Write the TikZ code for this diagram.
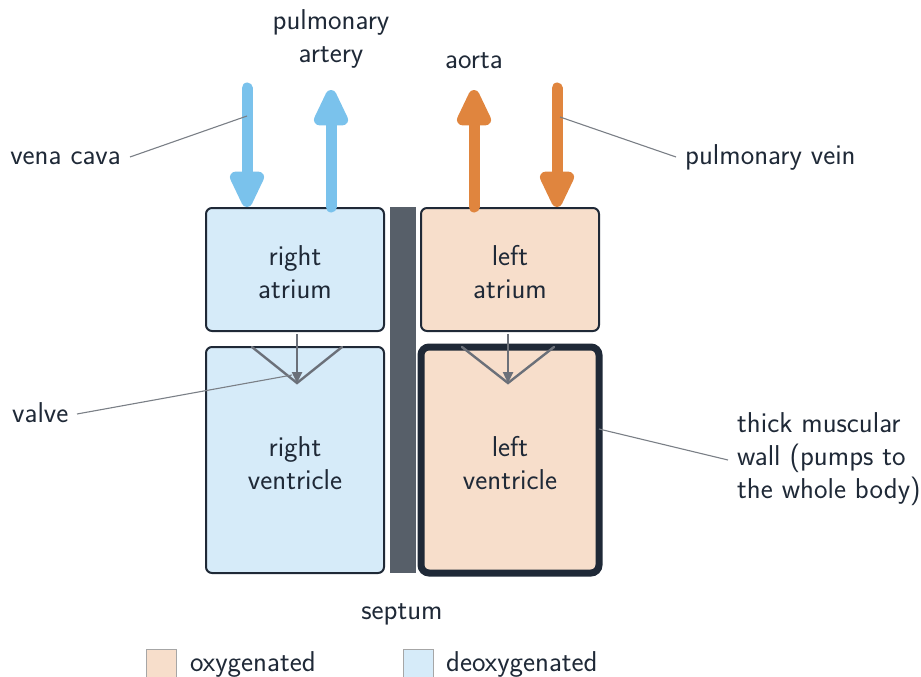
\documentclass[tikz,border=0pt]{standalone}
\usepackage{fontspec}
\usetikzlibrary{arrows.meta}
\definecolor{ink}{HTML}{1F2937}
\definecolor{deoxy}{HTML}{D6EBF9}
\definecolor{oxy}{HTML}{F7DECB}
\definecolor{blueflow}{HTML}{7AC2EC}
\definecolor{orangeflow}{HTML}{E0853E}
\definecolor{septcol}{HTML}{575F69}
\definecolor{valvecol}{HTML}{6B7079}
\definecolor{leadcol}{HTML}{7A7F86}
\tikzset{
  chamber/.style={draw=ink, line width=2pt, rounded corners=6pt, minimum width=178pt, inner sep=0pt},
  chlabel/.style={label={[inner sep=0pt, text=ink, align=center, yshift=-3pt]center:#1}},
  flow/.style={line width=11pt, line cap=round, -{Triangle[width=37pt,length=44pt,round]}},
  leader/.style={draw=leadcol, line width=1.1pt},
  valveline/.style={draw=valvecol, line width=2.4pt, line cap=round},
  valvearrow/.style={draw=valvecol, line width=2.4pt, -{Triangle[width=10pt,length=11pt]}},
  lbl/.style={inner sep=0pt, text=ink},
  swatch/.style={draw=gray!70, line width=1pt, minimum width=30pt, minimum height=30pt, inner sep=0pt}
}
\begin{document}
\begin{tikzpicture}[x=1pt,y=-1pt, font=\sffamily\fontsize{28.7}{33}\selectfont]
\useasboundingbox (0,0) rectangle (921,677);
% chambers
\node[chamber, fill=deoxy, minimum height=123pt, chlabel={right\\atrium}] (ra) at (295,269.5) {};
\node[chamber, fill=deoxy, minimum height=226pt, chlabel={right\\ventricle}] (rv) at (295,460) {};
\node[chamber, fill=oxy, minimum height=123pt, chlabel={left\\atrium}] (la) at (510,269.5) {};
\node[chamber, fill=oxy, minimum height=226pt, line width=7pt, rounded corners=8pt, chlabel={left\\ventricle}] (lv) at (510,460) {};
% septum
\node[fill=septcol, minimum width=26pt, minimum height=366pt, inner sep=0pt] (sept) at (403,390) {};
% vessels
\coordinate (vc) at (247,88);
\coordinate (pa) at (331,90);
\coordinate (ao) at (474,90);
\coordinate (pv) at (557,88);
\draw[flow, blueflow] (vc) -- (vc |- ra.north);
\draw[flow, blueflow] (pa |- ra.north) -- (pa);
\draw[flow, orangeflow] (ao |- la.north) -- (ao);
\draw[flow, orangeflow] (pv) -- (pv |- la.north);
% valves
\coordinate (rvl) at (252,347); \coordinate (rvt) at (297,383); \coordinate (rvr) at (342,347);
\coordinate (rvs) at (297,334);
\draw[valveline] (rvl) -- (rvt) -- (rvr);
\draw[valvearrow] (rvs) -- (rvt);
\coordinate (lvl) at (462,347); \coordinate (lvt) at (508,383); \coordinate (lvr) at (554,347);
\coordinate (lvs) at (508,334);
\draw[valveline] (lvl) -- (lvt) -- (lvr);
\draw[valvearrow] (lvs) -- (lvt);
% labels
\node[lbl, anchor=base east] (tvc) at (121,164) {vena cava};
\node[lbl, anchor=base west] (tpv) at (685,164) {pulmonary vein};
\node[lbl, anchor=base] (tao) at (474,69) {aorta};
\node[lbl, anchor=base, align=center] (tpa) at (331,63) {pulmonary\\artery};
\node[lbl, anchor=base west] (tva) at (12,422) {valve};
\node[lbl, anchor=base west, align=left] (twall) at (737,498) {thick muscular\\wall (pumps to\\the whole body)};
\node[lbl, anchor=base] (tsep) at (402,619) {septum};
% leaders
\coordinate (vcp) at (247,116);
\coordinate (pvp) at (560,117);
\coordinate (vap) at (292,375);
\coordinate (wap) at (599,429);
\draw[leader] (130,157) -- (vcp);
\draw[leader] (676,157) -- (pvp);
\draw[leader] (77,414) -- (vap);
\draw[leader] (728,460) -- (wap);
% legend
\node[swatch, fill=oxy, anchor=north west] (sox) at (146,649) {};
\node[lbl, anchor=base west] (tox) at (190,671) {oxygenated};
\node[swatch, fill=deoxy, anchor=north west] (sde) at (403,649) {};
\node[lbl, anchor=base west] (tde) at (446,671) {deoxygenated};
\end{tikzpicture}
\end{document}
